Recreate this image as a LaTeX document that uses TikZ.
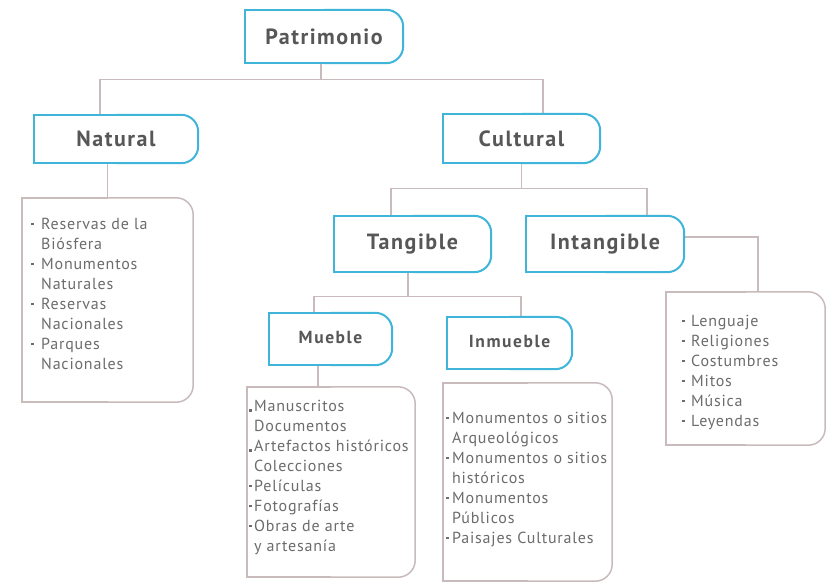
\documentclass[tikz,border=0pt]{standalone}
\usepackage{fontspec}
\setmainfont{PT Sans}
\newfontfamily\hdfont[LetterSpace=7]{PT Sans}
\newfontfamily\sbfont[LetterSpace=9]{PT Sans}
\newfontfamily\lsfont[LetterSpace=5]{PT Sans}
\definecolor{cy}{HTML}{3FB5D9}
\definecolor{gl}{HTML}{C9BBBB}
\definecolor{hd}{HTML}{575757}
\definecolor{tx}{HTML}{6C6C6C}
\newcommand{\rbox}[3]{%
  \draw[#2] (#1.north) -- (#1.north west) -- (#1.south west) -- (#1.south);
  \draw[#2,rounded corners=#3] (#1.south) -- (#1.south east) -- (#1.north east) -- (#1.north);}
\newcommand{\sq}{\raisebox{0.27em}{\rule{2.6pt}{2.6pt}}}
\newcommand{\bl}{\makebox[10pt][l]{\sq}}
\newcommand{\nb}{\hspace*{10pt}}
\newcommand{\sbl}[1]{\makebox[#1][l]{\sq}}
\newcommand{\sdt}[1]{\makebox[#1][l]{\rule{2.6pt}{2.6pt}}}
\begin{document}
\begin{tikzpicture}[x=1pt,y=-1pt,
  hbox/.style={inner sep=0pt, fill=white, font=\hdfont\bfseries\fontsize{22}{24}\selectfont, text=hd},
  sbox/.style={hbox, font=\sbfont\bfseries\fontsize{17.5}{20}\selectfont},
  lbox/.style={inner sep=0pt, fill=white},
  ltext/.style={inner sep=0pt, anchor=north west, align=left, text=tx, font=\lsfont\fontsize{16}{20}\selectfont},
  cyline/.style={draw=cy, line width=2pt},
  gyline/.style={draw=gl, line width=1.5pt},
  conn/.style={draw=gl, line width=1.3pt}]
\useasboundingbox (0,0) rectangle (826,583);
\fill[white] (0,0) rectangle (826,583);
% header boxes
\node[hbox, minimum width=158pt, minimum height=53pt] (pat) at (324,36.5) {Patrimonio};
\node[hbox, minimum width=164pt, minimum height=48pt] (nat) at (116,139) {Natural};
\node[hbox, minimum width=157pt, minimum height=49pt] (cul) at (521.5,138.5) {Cultural};
\node[hbox, minimum width=157pt, minimum height=56pt] (tan) at (412.5,244) {Tangible};
\node[hbox, minimum width=158pt, minimum height=56pt] (int) at (605,244) {Intangible};
\node[sbox, minimum width=123pt, minimum height=52pt] (mue) at (330.5,339) {\raisebox{4pt}{Mueble}};
\node[sbox, minimum width=125pt, minimum height=52pt] (inm) at (509.5,343) {\raisebox{4pt}{Inmueble}};
% list boxes
\node[lbox, minimum width=171pt, minimum height=204pt] (natl) at (107.5,300) {};
\node[lbox, minimum width=159pt, minimum height=153pt] (inl) at (745.5,368.5) {};
\node[lbox, minimum width=168pt, minimum height=190pt] (muel) at (331,482) {};
\node[lbox, minimum width=169pt, minimum height=198pt] (inml) at (527.5,482) {};
% connectors
\coordinate (p1) at ([xshift=-3pt]pat.south);
\draw[conn] (p1) -- ++(0,17);
\draw[conn] ([xshift=-16pt]nat.north) -- ++(0,-35) -| ([xshift=21.5pt]cul.north);
\draw[conn] (nat.south -| natl.north) -- (natl.north);
\draw[conn] (cul.south) -- ++(0,26);
\draw[conn] ([xshift=-21.5pt]tan.north) -- ++(0,-27) -| ([xshift=42pt]int.north);
\draw[conn] ([yshift=7pt]int.east) -| ([xshift=12.5pt]inl.north);
\draw[conn] ([xshift=-4.5pt]tan.south) -- ++(0,25);
\draw[conn] ([xshift=-16.5pt]mue.north) -- ++(0,-16) -| ([xshift=11.5pt]inm.north);
\coordinate (m1) at ([xshift=-12.5pt]mue.south);
\draw[conn] (m1) -- (m1 |- muel.north);
% outlines
\foreach \n in {pat,nat,cul,tan,int,mue,inm} {\rbox{\n}{cyline}{17pt}}
\foreach \n in {natl,inl,muel,inml} {\rbox{\n}{gyline}{17pt}}
% list texts
\node[ltext] (t1) at (31,218) {\bl Reservas de la\\ \nb Biósfera\\ \bl Monumentos\\ \nb Naturales\\ \bl Reservas\\ \nb Nacionales\\ \bl Parques\\ \nb Nacionales};
\node[ltext] (t2) at (682,315) {\sbl{9pt}Lenguaje\\ \sbl{9pt}Religiones\\ \sbl{9pt}Costumbres\\ \sbl{9pt}Mitos\\ \sbl{9pt}Música\\ \sbl{9pt}Leyendas};
\node[ltext] (t3) at (249,400) {\sdt{5pt}Manuscritos\\ \hspace*{5pt}Documentos\\ \sdt{5pt}Artefactos históricos\\ \hspace*{5pt}Colecciones\\ \sbl{5pt}Películas\\ \sbl{5pt}Fotografías\\ \sbl{5pt}Obras de arte\\ \hspace*{5pt}y artesanía};
\node[ltext] (t4) at (446,412) {\sbl{6pt}Monumentos o sitios\\ \hspace*{6pt}Arqueológicos\\ \sbl{6pt}Monumentos o sitios\\ \hspace*{6pt}históricos\\ \sbl{6pt}Monumentos\\ \hspace*{6pt}Públicos\\ \sbl{6pt}Paisajes Culturales};
\end{tikzpicture}
\end{document}
